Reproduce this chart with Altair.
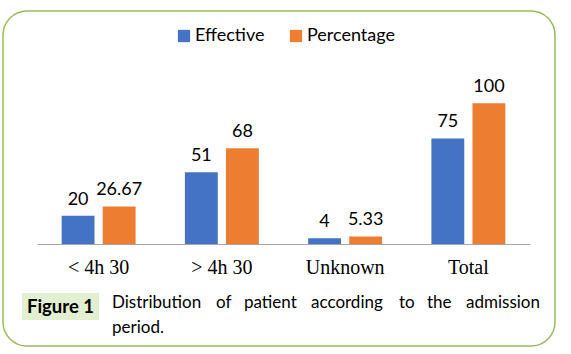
import altair as alt
import pandas as pd

categories = ["< 4h 30", "> 4h 30", "Unknown", "Total"]
series = ["Effective", "Percentage"]
effective = [20, 51, 4, 75]
percentage = [26.67, 68, 5.33, 100]
effective_labels = ["20", "51", "4", "75"]
percentage_labels = ["26.67", "68", "5.33", "100"]
colors = ["#4472C4", "#ED7D31"]
caption_words = ["Distribution", "of", "patient", "according", "to", "the", "admission"]
caption_x = [75, 179, 207, 274, 362, 390, 429]

rows = []
for c, e, p, le, lp in zip(categories, effective, percentage, effective_labels, percentage_labels):
    rows.append({"cat": c, "series": "Effective", "value": e, "label": le})
    rows.append({"cat": c, "series": "Percentage", "value": p, "label": lp})
df = pd.DataFrame(rows)

W, H = 493, 169
FONT = "Lato"

x = alt.X("cat:N", sort=categories,
          scale=alt.Scale(paddingInner=0.4, paddingOuter=0.2),
          axis=alt.Axis(title=None, labelAngle=0, labelFont="Liberation Serif",
                        labelFontSize=20, labelColor="black", ticks=False,
                        domainColor="#a6a6a6", domainWidth=1.2, labelPadding=13))
y = alt.Y("value:Q", scale=alt.Scale(domain=[0, 120]), axis=None)
xo = alt.XOffset("series:N", sort=series, scale=alt.Scale(paddingInner=0.2, paddingOuter=0))
color = alt.Color("series:N", sort=series,
                  scale=alt.Scale(domain=series, range=colors),
                  legend=alt.Legend(title=None, orient="none", direction="horizontal",
                                    legendX=138, legendY=-48, symbolType="square",
                                    symbolSize=150, symbolStrokeWidth=0, labelFont=FONT,
                                    labelFontSize=18, labelColor="black",
                                    columnPadding=22, labelOffset=2))

base = alt.Chart(df)
bars = base.mark_bar().encode(x=x, y=y, xOffset=xo, color=color)
texts = base.mark_text(baseline="alphabetic", dy=-11, fontSize=18, font=FONT, color="black").encode(
    x=x, y=y, xOffset=xo, text="label:N")

one = pd.DataFrame({"a": [0]})
border = alt.Chart(one).mark_rect(fill=None, stroke="#9bbb59", strokeWidth=1.5, cornerRadius=24).encode(
    x=alt.value(-34), x2=alt.value(518), y=alt.value(-64), y2=alt.value(271))
figbox = alt.Chart(one).mark_rect(fill="#e2efd0").encode(
    x=alt.value(-15), x2=alt.value(62), y=alt.value(218), y2=alt.value(245))
figtext = alt.Chart(one).mark_text(text="Figure 1", fontWeight="bold", fontSize=18.5, font=FONT,
                                   align="center", baseline="alphabetic", color="black").encode(
    x=alt.value(23.5), y=alt.value(238))

capdf = pd.DataFrame({"word": caption_words, "px": caption_x})
cap1 = alt.Chart(capdf).mark_text(fontSize=17, font=FONT, align="left", baseline="alphabetic",
                                  color="black").encode(
    x=alt.X("px:Q", scale=None), y=alt.value(233), text="word:N")
cap2 = alt.Chart(one).mark_text(text="period.", fontSize=17, font=FONT, align="left",
                                baseline="alphabetic", color="black").encode(x=alt.value(75), y=alt.value(258))

chart = alt.layer(border, figbox, figtext, cap1, cap2, bars, texts).properties(
    width=W, height=H, autosize="none",
    padding={"left": 37, "top": 75, "right": 41, "bottom": 110},
    background="white",
).configure_view(stroke=None)

chart.save("out.html", embed_options={"renderer": "svg", "actions": False})
